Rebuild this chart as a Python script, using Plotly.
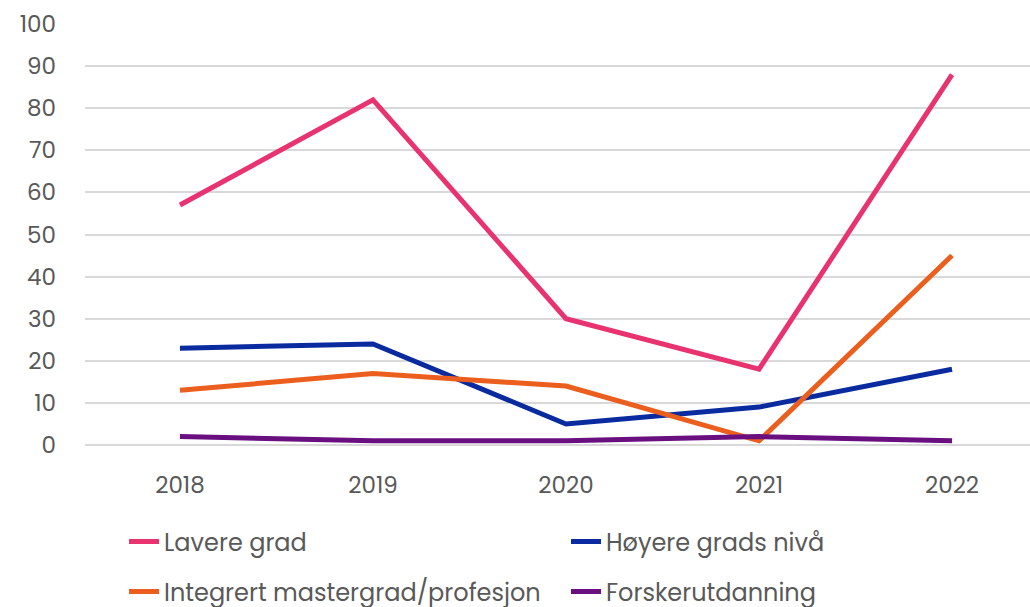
import plotly.graph_objects as go

years = ["2018", "2019", "2020", "2021", "2022"]
lavere = [57, 82, 30, 18, 88]
hoyere = [23, 24, 5, 9, 18]
integrert = [13, 17, 14, 1, 45]
forsker = [2, 1, 1, 2, 1]

series = [
    ("Lavere grad", lavere, "#E8336F", "legend"),
    ("Høyere grads nivå", hoyere, "#0A2BA0", "legend"),
    ("Integrert mastergrad/profesjon", integrert, "#EB5E1E", "legend2"),
    ("Forskerutdanning", forsker, "#6A0F80", "legend2"),
]

font = "Poppins, Lato, Open Sans, sans-serif"

fig = go.Figure()
for name, vals, col, leg in series:
    fig.add_trace(go.Scatter(x=years, y=vals, name=name, mode="lines",
                             line=dict(color=col, width=5), legend=leg))

legend_style = dict(orientation="h", xref="container", yref="container",
                    xanchor="left", yanchor="middle", x=124 / 1030,
                    entrywidth=397, entrywidthmode="pixels",
                    font=dict(family=font, size=24, color="#595959"),
                    bgcolor="rgba(0,0,0,0)")

fig.update_layout(
    width=1030, height=607,
    margin=dict(l=85, r=0, t=24, b=162),
    plot_bgcolor="white", paper_bgcolor="white",
    font=dict(family=font, size=23, color="#595959"),
    showlegend=True,
    legend=dict(legend_style, y=1 - 542 / 607),
    legend2=dict(legend_style, y=1 - 592 / 607),
    # categories a bit wider apart than the plot width, as in the original
    xaxis=dict(type="category", range=[-0.492, 4.404], showgrid=False,
               showline=False, ticks="", ticklabelstandoff=24,
               tickfont=dict(size=23, color="#595959")),
    yaxis=dict(range=[0, 100], dtick=10, showgrid=True, gridcolor="#D9D9D9",
               gridwidth=1.5, zeroline=True, zerolinecolor="#D9D9D9", zerolinewidth=1.5,
               showline=False, ticks="", ticklabelstandoff=28,
               tickfont=dict(size=23, color="#595959")),
)

fig.write_html("out.html", config={"displayModeBar": False},
               post_script="document.body.style.margin='0';")
